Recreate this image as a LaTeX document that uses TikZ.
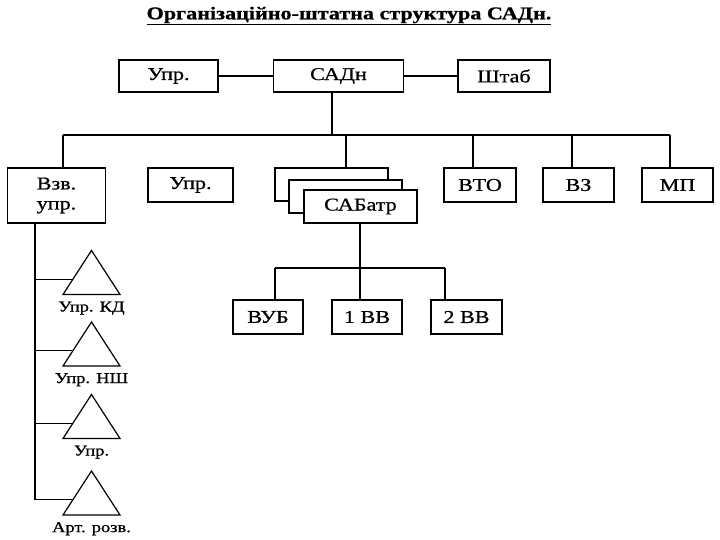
\documentclass[tikz,border=0pt]{standalone}
\usepackage{fontspec}
\setmainfont{Liberation Serif}[FakeStretch=1.23,FakeBold=0.8]
\usetikzlibrary{shapes.geometric,positioning}

\begin{document}
\begin{tikzpicture}[x=1pt,y=-1pt,line width=1.2pt,
    box/.style={draw,fill=white,inner sep=0pt,align=center,font=\fontsize{18}{20}\selectfont},
    unit/.style={draw,isosceles triangle,isosceles triangle stretches,shape border rotate=90,
      minimum width=57,minimum height=44,inner sep=0pt},
    unitlabel/.style={inner sep=1pt,font=\fontsize{15}{17}\selectfont}]
    \useasboundingbox (0,0) rectangle (720,540);
    \node[font=\bfseries\fontsize{18}{20}\selectfont] (title) at (349,16) {\underline{Організаційно-штатна структура САДн.}};

    % top row
    \node[box,minimum width=99,minimum height=32] (upr) at (168.5,76) {Упр.};
    \node[box,minimum width=130,minimum height=32] (sadn) at (338.5,76) {САДн};
    \node[box,minimum width=92,minimum height=32] (shtab) at (504,76) {Штаб};
    \draw (upr) -- (sadn);
    \draw (sadn) -- (shtab);

    % second row
    \node[box,minimum width=98,minimum height=55] (vzv) at (56.5,195.5) {Взв.\\упр.};
    \node[box,minimum width=85,minimum height=34] (upr2) at (190.5,185) {Упр.};
    \node[box,minimum width=113,minimum height=33] (sab1) at (331.5,184.5) {};
    \node[box,minimum width=113,minimum height=33] (sab2) at (345.5,196.5) {};
    \node[box,minimum width=113,minimum height=33] (sab3) at (360.5,206.5) {САБатр};
    \node[box,minimum width=72,minimum height=34] (vto) at (480,185) {ВТО};
    \node[box,minimum width=71,minimum height=34] (vz) at (578.5,185) {ВЗ};
    \node[box,minimum width=71,minimum height=34] (mp) at (677.5,185) {МП};

    \coordinate (busL) at (63,135);
    \coordinate (busR) at (670,135);
    \draw (332,0 |- sadn.south) -- (332,0 |- busL);
    \draw (busL) -- (busR);
    \draw (busL) -- (63,0 |- vzv.north);
    \draw (346,0 |- busL) -- (346,0 |- sab1.north);
    \draw (473,0 |- busL) -- (473,0 |- vto.north);
    \draw (572,0 |- busL) -- (572,0 |- vz.north);
    \draw (busR) -- (670,0 |- mp.north);

    % batteries
    \node[box,minimum width=70,minimum height=34] (vub) at (268,317) {ВУБ};
    \node[box,minimum width=70,minimum height=34] (vv1) at (367,317) {1 ВВ};
    \node[box,minimum width=71,minimum height=34] (vv2) at (466.5,317) {2 ВВ};
    \coordinate (sbusL) at (275,268);
    \coordinate (sbusR) at (445,268);
    \draw (360,0 |- sab3.south) -- (360,0 |- vv1.north);
    \draw (sbusL) -- (sbusR);
    \draw (sbusL) -- (275,0 |- vub.north);
    \draw (sbusR) -- (445,0 |- vv2.north);

    % control platoon
    \node[unit] (t1) at (91.5,279) {};
    \node[unit] (t2) at (91.5,350.5) {};
    \node[unit] (t3) at (91.5,423) {};
    \node[unit] (t4) at (91.5,499.5) {};
    \node[unitlabel,below=5pt of t1.lower side] (t1l) {Упр. КД};
    \node[unitlabel,below=5pt of t2.lower side] (t2l) {Упр. НШ};
    \node[unitlabel,below=5pt of t3.lower side] (t3l) {Упр.};
    \node[unitlabel,below=5pt of t4.lower side] (t4l) {Арт. розв.};
    \coordinate (trunk) at (35,0 |- t4.west);
    \draw (35,0 |- vzv.south) -- (trunk);
    \draw[line width=0.8pt] (35,0 |- t1.west) -- (t1.west);
    \draw[line width=0.8pt] (35,0 |- t2.west) -- (t2.west);
    \draw[line width=0.8pt] (35,0 |- t3.west) -- (t3.west);
    \draw (trunk) -- (t4.west);
\end{tikzpicture}
\end{document}
